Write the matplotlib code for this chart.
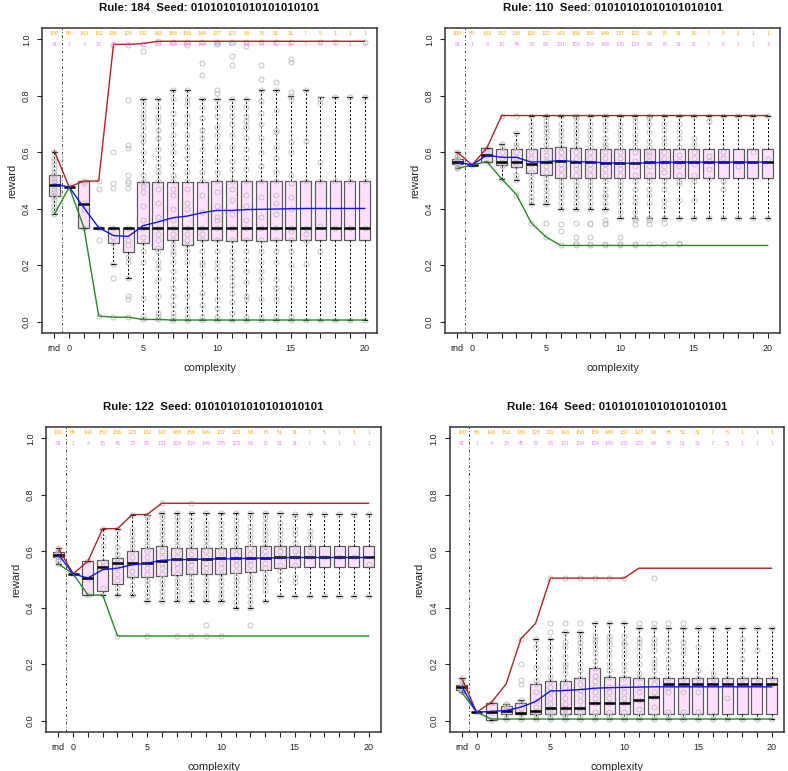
import matplotlib
matplotlib.use("Agg")
import matplotlib.pyplot as plt
import numpy as np

plt.rcParams['font.family'] = ['Liberation Sans', 'DejaVu Sans']

# ---------------- data ----------------
positions = [-1] + list(range(21))
tick_text = {-1: 'rnd', 0: '0', 5: '5', 10: '10', 15: '15', 20: '20'}
seed = "01010101010101010101"
count_top = [100, 65, 143, 152, 136, 128, 132, 143, 168, 159, 149, 137, 123, 93, 75, 51, 31, 7, 5, 1, 1, 1]
count_bot = [91, 1, 4, 15, 45, 73, 95, 131, 159, 154, 149, 135, 123, 93, 75, 51, 31, 7, 5, 1, 1, 1]

# Rule 184
r184_q1 = [0.445, 0.477, 0.333, 0.333, 0.280, 0.248, 0.280, 0.256, 0.290, 0.270, 0.289, 0.290, 0.287, 0.289, 0.287, 0.289, 0.290, 0.290, 0.290, 0.290, 0.290, 0.290]
r184_med = [0.484, 0.477, 0.416, 0.333, 0.333, 0.333, 0.333, 0.333, 0.333, 0.333, 0.333, 0.333, 0.333, 0.333, 0.333, 0.333, 0.333, 0.333, 0.333, 0.333, 0.333, 0.333]
r184_q3 = [0.518, 0.477, 0.498, 0.333, 0.333, 0.333, 0.495, 0.496, 0.496, 0.496, 0.496, 0.498, 0.498, 0.498, 0.498, 0.498, 0.498, 0.498, 0.498, 0.498, 0.498, 0.498]
r184_wlo = [0.38, 0.477, 0.333, 0.333, 0.205, 0.155, 0.008, 0.008, 0.006, 0.006, 0.006, 0.006, 0.006, 0.006, 0.006, 0.006, 0.006, 0.006, 0.006, 0.006, 0.006, 0.006]
r184_whi = [0.60, 0.477, 0.498, 0.333, 0.333, 0.333, 0.787, 0.787, 0.82, 0.82, 0.787, 0.787, 0.787, 0.787, 0.82, 0.82, 0.80, 0.82, 0.796, 0.796, 0.796, 0.796]
r184_max = [0.604, 0.477, 0.498, 0.498, 0.982, 0.982, 0.985, 0.993, 0.993, 0.993, 0.993, 0.993, 0.993, 0.993, 0.993, 0.993, 0.993, 0.993, 0.993, 0.993, 0.993, 0.993]
r184_min = [0.38, 0.477, 0.333, 0.020, 0.016, 0.016, 0.008, 0.008, 0.006, 0.006, 0.006, 0.006, 0.006, 0.006, 0.006, 0.006, 0.006, 0.006, 0.006, 0.006, 0.006, 0.006]
r184_mean = [0.487, 0.477, 0.403, 0.333, 0.305, 0.302, 0.340, 0.353, 0.368, 0.374, 0.386, 0.394, 0.394, 0.397, 0.398, 0.399, 0.400, 0.401, 0.401, 0.401, 0.401, 0.401]
r184_pts = [
    [0.38, 0.40, 0.41, 0.43, 0.44, 0.45, 0.46, 0.47, 0.48, 0.49, 0.50, 0.51, 0.52, 0.53, 0.54, 0.56, 0.57, 0.58, 0.60],
    [0.477],
    [0.333, 0.40, 0.42, 0.49, 0.498],
    [0.02, 0.29, 0.333, 0.47, 0.498],
    [0.016, 0.155, 0.205, 0.28, 0.30, 0.333, 0.475, 0.49, 0.60, 0.98],
    [0.016, 0.08, 0.09, 0.155, 0.21, 0.23, 0.27, 0.29, 0.333, 0.475, 0.49, 0.50, 0.52, 0.615, 0.625, 0.785, 0.98],
    [0.008, 0.02, 0.085, 0.21, 0.25, 0.28, 0.30, 0.333, 0.36, 0.41, 0.46, 0.48, 0.49, 0.50, 0.52, 0.57, 0.60, 0.64, 0.66, 0.69, 0.71, 0.73, 0.75, 0.77, 0.787, 0.96, 0.985],
    [0.008, 0.02, 0.03, 0.09, 0.15, 0.19, 0.21, 0.25, 0.26, 0.29, 0.31, 0.333, 0.37, 0.42, 0.47, 0.50, 0.53, 0.55, 0.58, 0.61, 0.65, 0.68, 0.71, 0.73, 0.76, 0.787, 0.993],
    [0.006, 0.015, 0.03, 0.06, 0.09, 0.12, 0.15, 0.18, 0.21, 0.24, 0.25, 0.27, 0.29, 0.31, 0.333, 0.36, 0.40, 0.45, 0.47, 0.50, 0.52, 0.56, 0.60, 0.63, 0.66, 0.70, 0.74, 0.787, 0.82, 0.99],
    [0.006, 0.015, 0.05, 0.09, 0.15, 0.21, 0.25, 0.27, 0.29, 0.31, 0.333, 0.40, 0.42, 0.47, 0.50, 0.53, 0.58, 0.62, 0.66, 0.70, 0.73, 0.77, 0.787, 0.82, 0.98, 0.99],
    [0.006, 0.015, 0.06, 0.10, 0.17, 0.20, 0.21, 0.25, 0.29, 0.31, 0.333, 0.39, 0.45, 0.50, 0.53, 0.57, 0.61, 0.65, 0.68, 0.72, 0.76, 0.787, 0.875, 0.915, 0.99],
    [0.006, 0.015, 0.05, 0.08, 0.15, 0.19, 0.21, 0.25, 0.29, 0.333, 0.36, 0.37, 0.41, 0.46, 0.50, 0.53, 0.57, 0.62, 0.66, 0.69, 0.73, 0.76, 0.787, 0.81, 0.82, 0.985, 0.99],
    [0.006, 0.03, 0.07, 0.10, 0.13, 0.16, 0.19, 0.22, 0.25, 0.29, 0.333, 0.38, 0.43, 0.47, 0.50, 0.54, 0.57, 0.62, 0.66, 0.70, 0.73, 0.76, 0.787, 0.91, 0.94, 0.99],
    [0.006, 0.015, 0.08, 0.09, 0.14, 0.18, 0.22, 0.25, 0.29, 0.333, 0.36, 0.41, 0.45, 0.50, 0.54, 0.58, 0.61, 0.65, 0.69, 0.71, 0.73, 0.76, 0.787, 0.975, 0.99],
    [0.006, 0.015, 0.08, 0.15, 0.18, 0.21, 0.25, 0.29, 0.333, 0.37, 0.44, 0.50, 0.55, 0.60, 0.65, 0.70, 0.74, 0.78, 0.82, 0.86, 0.91, 0.99],
    [0.006, 0.02, 0.08, 0.12, 0.15, 0.21, 0.25, 0.29, 0.333, 0.38, 0.42, 0.45, 0.50, 0.53, 0.58, 0.62, 0.67, 0.68, 0.75, 0.82, 0.85, 0.99],
    [0.006, 0.015, 0.12, 0.20, 0.25, 0.29, 0.32, 0.333, 0.40, 0.44, 0.49, 0.52, 0.60, 0.635, 0.79, 0.80, 0.815, 0.92, 0.93, 0.99],
    [0.006, 0.205, 0.285, 0.31, 0.333, 0.50, 0.64, 0.82],
    [0.006, 0.25, 0.34, 0.50, 0.565, 0.775, 0.79, 0.99],
    [0.006, 0.333, 0.50, 0.796, 0.99],
    [0.006, 0.333, 0.50, 0.796],
    [0.006, 0.333, 0.50, 0.796, 0.99],
]

# Rule 110
r110_q1 = [0.557, 0.555, 0.567, 0.555, 0.549, 0.528, 0.520, 0.510, 0.510, 0.510, 0.508, 0.510, 0.510, 0.510, 0.510, 0.510, 0.510, 0.510, 0.510, 0.510, 0.510, 0.510]
r110_med = [0.565, 0.555, 0.590, 0.567, 0.567, 0.557, 0.567, 0.570, 0.567, 0.565, 0.563, 0.562, 0.562, 0.565, 0.565, 0.565, 0.565, 0.565, 0.565, 0.565, 0.565, 0.567]
r110_q3 = [0.575, 0.555, 0.616, 0.613, 0.613, 0.610, 0.616, 0.619, 0.616, 0.610, 0.610, 0.610, 0.610, 0.610, 0.610, 0.610, 0.610, 0.610, 0.610, 0.610, 0.610, 0.610]
r110_wlo = [0.543, 0.555, 0.567, 0.505, 0.503, 0.417, 0.417, 0.40, 0.40, 0.40, 0.40, 0.367, 0.367, 0.367, 0.367, 0.367, 0.367, 0.367, 0.367, 0.367, 0.367, 0.367]
r110_whi = [0.60, 0.555, 0.616, 0.63, 0.668, 0.73, 0.73, 0.73, 0.73, 0.73, 0.73, 0.73, 0.73, 0.73, 0.73, 0.73, 0.73, 0.73, 0.73, 0.73, 0.73, 0.73]
r110_max = [0.60, 0.555, 0.616, 0.73, 0.73, 0.73, 0.73, 0.73, 0.73, 0.73, 0.73, 0.73, 0.73, 0.73, 0.73, 0.73, 0.73, 0.73, 0.73, 0.73, 0.73, 0.73]
r110_min = [0.543, 0.555, 0.567, 0.505, 0.45, 0.35, 0.30, 0.27, 0.27, 0.27, 0.27, 0.27, 0.27, 0.27, 0.27, 0.27, 0.27, 0.27, 0.27, 0.27, 0.27, 0.27]
r110_mean = [0.565, 0.555, 0.590, 0.582, 0.582, 0.565, 0.567, 0.570, 0.567, 0.565, 0.563, 0.561, 0.561, 0.563, 0.564, 0.565, 0.565, 0.565, 0.565, 0.565, 0.565, 0.565]
r110_pts = [
    [0.543, 0.548, 0.553, 0.558, 0.562, 0.566, 0.57, 0.575, 0.58, 0.585, 0.60],
    [0.555],
    [0.567, 0.59, 0.60, 0.616],
    [0.505, 0.55, 0.555, 0.567, 0.58, 0.60, 0.62, 0.63, 0.73],
    [0.45, 0.503, 0.52, 0.55, 0.567, 0.58, 0.60, 0.62, 0.63, 0.668, 0.73],
    [0.35, 0.417, 0.43, 0.44, 0.46, 0.48, 0.50, 0.52, 0.53, 0.56, 0.58, 0.60, 0.62, 0.64, 0.66, 0.68, 0.70, 0.73],
    [0.30, 0.35, 0.417, 0.43, 0.45, 0.47, 0.49, 0.51, 0.53, 0.55, 0.57, 0.59, 0.61, 0.63, 0.65, 0.67, 0.69, 0.70, 0.71, 0.73],
    [0.27, 0.32, 0.345, 0.40, 0.42, 0.44, 0.46, 0.48, 0.50, 0.52, 0.54, 0.56, 0.58, 0.60, 0.62, 0.64, 0.66, 0.68, 0.70, 0.73],
    [0.27, 0.28, 0.30, 0.35, 0.40, 0.42, 0.44, 0.46, 0.48, 0.50, 0.52, 0.54, 0.56, 0.58, 0.60, 0.62, 0.64, 0.66, 0.68, 0.70, 0.72, 0.73],
    [0.27, 0.275, 0.30, 0.345, 0.35, 0.40, 0.42, 0.44, 0.46, 0.48, 0.50, 0.52, 0.54, 0.56, 0.58, 0.60, 0.62, 0.64, 0.66, 0.68, 0.70, 0.73],
    [0.27, 0.275, 0.345, 0.35, 0.36, 0.40, 0.42, 0.44, 0.45, 0.47, 0.50, 0.52, 0.54, 0.56, 0.58, 0.60, 0.62, 0.63, 0.65, 0.68, 0.70, 0.73],
    [0.27, 0.275, 0.30, 0.367, 0.39, 0.42, 0.44, 0.46, 0.48, 0.50, 0.52, 0.54, 0.56, 0.58, 0.60, 0.62, 0.64, 0.66, 0.68, 0.70, 0.73],
    [0.27, 0.275, 0.345, 0.36, 0.367, 0.39, 0.42, 0.44, 0.47, 0.50, 0.52, 0.55, 0.57, 0.60, 0.62, 0.64, 0.66, 0.69, 0.71, 0.73],
    [0.275, 0.345, 0.36, 0.367, 0.42, 0.45, 0.47, 0.50, 0.52, 0.55, 0.57, 0.59, 0.60, 0.62, 0.64, 0.67, 0.70, 0.72, 0.73],
    [0.275, 0.35, 0.367, 0.41, 0.43, 0.47, 0.50, 0.53, 0.55, 0.58, 0.60, 0.63, 0.65, 0.68, 0.70, 0.73],
    [0.275, 0.28, 0.367, 0.43, 0.49, 0.50, 0.52, 0.55, 0.57, 0.59, 0.62, 0.65, 0.67, 0.70, 0.73],
    [0.367, 0.43, 0.50, 0.52, 0.56, 0.58, 0.60, 0.63, 0.65, 0.73],
    [0.367, 0.505, 0.54, 0.57, 0.585, 0.71, 0.73],
    [0.367, 0.47, 0.50, 0.58, 0.60, 0.73],
    [0.367, 0.55, 0.73],
    [0.367, 0.60, 0.73],
    [0.367, 0.575, 0.73],
]

# Rule 122
r122_q1 = [0.578, 0.520, 0.445, 0.460, 0.485, 0.510, 0.508, 0.514, 0.515, 0.518, 0.520, 0.520, 0.524, 0.528, 0.533, 0.540, 0.543, 0.545, 0.545, 0.545, 0.545, 0.545]
r122_med = [0.587, 0.520, 0.506, 0.545, 0.560, 0.560, 0.560, 0.565, 0.572, 0.572, 0.572, 0.575, 0.575, 0.575, 0.577, 0.580, 0.580, 0.580, 0.580, 0.580, 0.580, 0.580]
r122_q3 = [0.596, 0.520, 0.565, 0.570, 0.575, 0.600, 0.613, 0.618, 0.613, 0.613, 0.613, 0.613, 0.613, 0.617, 0.617, 0.620, 0.620, 0.620, 0.620, 0.620, 0.620, 0.620]
r122_wlo = [0.555, 0.520, 0.445, 0.445, 0.445, 0.445, 0.423, 0.423, 0.423, 0.423, 0.423, 0.423, 0.40, 0.40, 0.423, 0.44, 0.44, 0.44, 0.44, 0.44, 0.44, 0.44]
r122_whi = [0.61, 0.520, 0.565, 0.68, 0.68, 0.73, 0.73, 0.735, 0.735, 0.735, 0.735, 0.735, 0.735, 0.735, 0.735, 0.735, 0.732, 0.732, 0.732, 0.732, 0.732, 0.732]
r122_max = [0.61, 0.52, 0.565, 0.68, 0.68, 0.73, 0.73, 0.77, 0.77, 0.77, 0.77, 0.77, 0.77, 0.77, 0.77, 0.77, 0.77, 0.77, 0.77, 0.77, 0.77, 0.77]
r122_min = [0.555, 0.52, 0.445, 0.445, 0.30, 0.30, 0.30, 0.30, 0.30, 0.30, 0.30, 0.30, 0.30, 0.30, 0.30, 0.30, 0.30, 0.30, 0.30, 0.30, 0.30, 0.30]
r122_mean = [0.588, 0.520, 0.505, 0.535, 0.540, 0.552, 0.558, 0.568, 0.570, 0.571, 0.572, 0.573, 0.574, 0.575, 0.576, 0.577, 0.578, 0.578, 0.578, 0.578, 0.578, 0.578]
r122_pts = [
    [0.555, 0.565, 0.57, 0.578, 0.583, 0.587, 0.59, 0.596, 0.60, 0.61],
    [0.52],
    [0.445, 0.505, 0.565],
    [0.445, 0.47, 0.545, 0.565, 0.62, 0.65, 0.68],
    [0.30, 0.445, 0.47, 0.50, 0.52, 0.54, 0.56, 0.575, 0.59, 0.615, 0.65, 0.68],
    [0.445, 0.45, 0.48, 0.51, 0.53, 0.56, 0.58, 0.60, 0.62, 0.64, 0.66, 0.68, 0.73],
    [0.30, 0.423, 0.44, 0.46, 0.48, 0.50, 0.52, 0.54, 0.56, 0.58, 0.60, 0.62, 0.64, 0.66, 0.68, 0.70, 0.72, 0.73],
    [0.423, 0.44, 0.46, 0.48, 0.50, 0.52, 0.54, 0.56, 0.58, 0.60, 0.62, 0.64, 0.66, 0.68, 0.70, 0.72, 0.735, 0.77],
    [0.30, 0.423, 0.44, 0.46, 0.48, 0.50, 0.52, 0.54, 0.56, 0.58, 0.60, 0.62, 0.64, 0.66, 0.68, 0.70, 0.72, 0.735],
    [0.30, 0.423, 0.45, 0.47, 0.49, 0.51, 0.53, 0.55, 0.57, 0.59, 0.61, 0.63, 0.65, 0.67, 0.69, 0.71, 0.735, 0.77],
    [0.30, 0.34, 0.423, 0.44, 0.46, 0.48, 0.50, 0.52, 0.54, 0.56, 0.58, 0.60, 0.62, 0.64, 0.66, 0.68, 0.70, 0.735],
    [0.30, 0.423, 0.44, 0.46, 0.48, 0.50, 0.52, 0.54, 0.56, 0.58, 0.60, 0.62, 0.64, 0.66, 0.68, 0.70, 0.735],
    [0.40, 0.42, 0.45, 0.47, 0.49, 0.51, 0.53, 0.55, 0.57, 0.59, 0.61, 0.63, 0.65, 0.67, 0.69, 0.71, 0.735],
    [0.34, 0.40, 0.42, 0.44, 0.47, 0.49, 0.51, 0.53, 0.55, 0.57, 0.59, 0.61, 0.63, 0.65, 0.67, 0.69, 0.72, 0.735],
    [0.423, 0.46, 0.48, 0.50, 0.52, 0.54, 0.56, 0.58, 0.60, 0.62, 0.64, 0.66, 0.68, 0.70, 0.72, 0.735],
    [0.44, 0.50, 0.53, 0.55, 0.58, 0.60, 0.62, 0.64, 0.66, 0.68, 0.70, 0.735],
    [0.44, 0.49, 0.51, 0.55, 0.58, 0.60, 0.63, 0.66, 0.68, 0.72, 0.732],
    [0.44, 0.58, 0.60, 0.62, 0.65, 0.67, 0.732],
    [0.44, 0.58, 0.732],
    [0.44, 0.58, 0.732],
    [0.44, 0.58, 0.732],
    [0.44, 0.555, 0.732],
]

# Rule 164
r164_q1 = [0.110, 0.030, 0.004, 0.022, 0.022, 0.022, 0.022, 0.022, 0.022, 0.022, 0.022, 0.022, 0.022, 0.022, 0.022, 0.022, 0.022, 0.022, 0.022, 0.022, 0.022, 0.022]
r164_med = [0.120, 0.030, 0.030, 0.033, 0.027, 0.035, 0.046, 0.046, 0.046, 0.062, 0.062, 0.062, 0.074, 0.084, 0.130, 0.130, 0.130, 0.130, 0.130, 0.130, 0.130, 0.130]
r164_q3 = [0.127, 0.030, 0.062, 0.053, 0.062, 0.130, 0.139, 0.142, 0.150, 0.187, 0.154, 0.154, 0.150, 0.150, 0.150, 0.150, 0.150, 0.150, 0.150, 0.150, 0.150, 0.150]
r164_wlo = [0.10, 0.030, 0.004, 0.006, 0.006, 0.006, 0.006, 0.006, 0.006, 0.006, 0.006, 0.006, 0.006, 0.006, 0.006, 0.006, 0.006, 0.006, 0.006, 0.006, 0.006, 0.006]
r164_whi = [0.15, 0.030, 0.062, 0.060, 0.075, 0.288, 0.288, 0.315, 0.315, 0.345, 0.345, 0.345, 0.328, 0.328, 0.328, 0.328, 0.328, 0.328, 0.328, 0.328, 0.328, 0.328]
r164_max = [0.15, 0.03, 0.065, 0.13, 0.29, 0.345, 0.505, 0.505, 0.505, 0.505, 0.505, 0.505, 0.54, 0.54, 0.54, 0.54, 0.54, 0.54, 0.54, 0.54, 0.54, 0.54]
r164_min = [0.10, 0.03, 0.006, 0.006, 0.006, 0.006, 0.006, 0.006, 0.006, 0.006, 0.006, 0.006, 0.006, 0.006, 0.006, 0.006, 0.006, 0.006, 0.006, 0.006, 0.006, 0.006]
r164_mean = [0.12, 0.03, 0.033, 0.036, 0.048, 0.068, 0.105, 0.107, 0.110, 0.115, 0.117, 0.118, 0.119, 0.120, 0.120, 0.120, 0.120, 0.120, 0.120, 0.120, 0.120, 0.120]
r164_pts = [
    [0.10, 0.105, 0.11, 0.115, 0.12, 0.125, 0.13, 0.14, 0.15],
    [0.03],
    [0.004, 0.03, 0.062],
    [0.006, 0.022, 0.033, 0.045, 0.053, 0.06],
    [0.006, 0.022, 0.027, 0.045, 0.062, 0.075, 0.13, 0.145, 0.20, 0.29],
    [0.006, 0.015, 0.022, 0.035, 0.05, 0.07, 0.10, 0.13, 0.145, 0.19, 0.26, 0.288],
    [0.006, 0.015, 0.025, 0.035, 0.046, 0.06, 0.08, 0.10, 0.12, 0.139, 0.16, 0.19, 0.22, 0.26, 0.288, 0.315, 0.345, 0.505],
    [0.006, 0.015, 0.025, 0.04, 0.046, 0.06, 0.08, 0.10, 0.12, 0.142, 0.17, 0.19, 0.20, 0.23, 0.26, 0.28, 0.315, 0.345, 0.505],
    [0.006, 0.015, 0.03, 0.046, 0.07, 0.09, 0.11, 0.13, 0.15, 0.18, 0.20, 0.24, 0.26, 0.28, 0.30, 0.315, 0.345, 0.505],
    [0.006, 0.015, 0.03, 0.062, 0.08, 0.10, 0.12, 0.14, 0.16, 0.187, 0.21, 0.24, 0.26, 0.28, 0.29, 0.30, 0.345, 0.505],
    [0.006, 0.015, 0.03, 0.062, 0.08, 0.10, 0.12, 0.154, 0.18, 0.20, 0.23, 0.25, 0.27, 0.29, 0.30, 0.345, 0.505],
    [0.006, 0.015, 0.03, 0.062, 0.08, 0.10, 0.12, 0.154, 0.18, 0.20, 0.23, 0.25, 0.27, 0.28, 0.30, 0.345, 0.505],
    [0.006, 0.015, 0.04, 0.074, 0.10, 0.12, 0.15, 0.17, 0.20, 0.23, 0.26, 0.28, 0.29, 0.328, 0.345],
    [0.006, 0.015, 0.05, 0.084, 0.10, 0.13, 0.15, 0.18, 0.20, 0.22, 0.25, 0.27, 0.29, 0.328, 0.345, 0.505],
    [0.006, 0.02, 0.03, 0.10, 0.12, 0.13, 0.15, 0.19, 0.22, 0.25, 0.28, 0.328, 0.345],
    [0.006, 0.02, 0.03, 0.10, 0.13, 0.15, 0.2, 0.24, 0.26, 0.28, 0.328, 0.345],
    [0.006, 0.03, 0.10, 0.13, 0.15, 0.18, 0.26, 0.328],
    [0.006, 0.02, 0.13, 0.15, 0.17, 0.328],
    [0.006, 0.08, 0.13, 0.15, 0.328],
    [0.006, 0.13, 0.15, 0.22, 0.25, 0.29, 0.328],
    [0.006, 0.13, 0.15, 0.25, 0.328],
    [0.006, 0.13, 0.15, 0.328],
]

panels = [
    ("184", r184_q1, r184_med, r184_q3, r184_wlo, r184_whi, r184_max, r184_min, r184_mean, r184_pts),
    ("110", r110_q1, r110_med, r110_q3, r110_wlo, r110_whi, r110_max, r110_min, r110_mean, r110_pts),
    ("122", r122_q1, r122_med, r122_q3, r122_wlo, r122_whi, r122_max, r122_min, r122_mean, r122_pts),
    ("164", r164_q1, r164_med, r164_q3, r164_wlo, r164_whi, r164_max, r164_min, r164_mean, r164_pts),
]

# ---------------- layout ----------------
W, H = 788, 771
fig = plt.figure(figsize=(W / 100, H / 100), dpi=100)
# pixel boxes: left, right, top, bottom
boxes_px = [(42, 377, 28, 333), (445, 780, 28, 333), (46, 381, 427, 732), (449.5, 784, 427, 732)]

FILL = '#FFE1FF'
EDGE = '#5A5A5A'
PTC = '#BBBBBB'

for (rule, q1, med, q3, wlo, whi, mx, mn, mean, pts), (l, r, t, b) in zip(panels, boxes_px):
    ax = fig.add_axes([l / W, (H - b) / H, (r - l) / W, (b - t) / H])
    stats = [dict(q1=a, med=m, q3=c, whislo=lo, whishi=hi)
             for a, m, c, lo, hi in zip(q1, med, q3, wlo, whi)]
    ax.bxp(stats, positions=positions, widths=0.75, patch_artist=True,
           showfliers=False, manage_ticks=False, capwidths=0.36,
           boxprops=dict(facecolor=FILL, edgecolor=EDGE, linewidth=0.9),
           whiskerprops=dict(color='black', linestyle=(0, (2.2, 2.0)), linewidth=0.7),
           capprops=dict(color='black', linewidth=0.9),
           medianprops=dict(color='black', linewidth=1.8, zorder=3.2))
    for p, vals in zip(positions, pts):
        ax.plot([p] * len(vals), vals, 'o', ms=3.6, mfc='none', mec=PTC, mew=0.6, zorder=3)
    ax.plot(positions, mx, color='#B22222', lw=1.0, zorder=4)
    ax.plot(positions, mn, color='#228B22', lw=1.0, zorder=4)
    ax.plot(positions, mean, color='#1010FF', lw=1.0, zorder=4.1)
    ax.axvline(-0.5, color='#555555', lw=0.7, linestyle=(0, (3, 2, 1, 2)), zorder=1)

    for p, n1, n2 in zip(positions, count_top, count_bot):
        ax.text(p, 1.021, str(n1), color='#FFA500', fontsize=3.9, ha='center', va='center', zorder=5)
        ax.text(p, 0.980, str(n2), color='#EE82EE', fontsize=3.9, ha='center', va='center', zorder=5)

    ax.set_xlim(-1.84, 20.84)
    ax.set_ylim(-0.04, 1.04)
    ax.set_xticks(positions)
    ax.set_xticklabels([tick_text.get(p, '') for p in positions])
    ax.set_yticks([0.0, 0.2, 0.4, 0.6, 0.8, 1.0])
    ax.set_yticklabels(['0.0', '0.2', '0.4', '0.6', '0.8', '1.0'], rotation=90, va='center')
    ax.tick_params(axis='both', direction='out', length=3.5, width=0.8, labelsize=6.5,
                   color='#222222', labelcolor='#222222')
    ax.tick_params(axis='x', pad=4.5)
    ax.tick_params(axis='y', pad=4.5)
    for s in ax.spines.values():
        s.set_linewidth(1.1)
        s.set_color('#333333')
    ax.text(0.5, -35 / 305, 'complexity', transform=ax.transAxes, ha='center', va='center',
            fontsize=8, color='#222222')
    ax.text(-30 / 335, 0.5, 'reward', transform=ax.transAxes, ha='center', va='center',
            rotation=90, fontsize=8, color='#222222')
    ax.text(0.5, 1 + 20 / 305, f"Rule: {rule}  Seed: {seed}", transform=ax.transAxes,
            ha='center', va='center', fontsize=8.2, fontweight='bold', color='#111111')

fig.savefig('out.png', dpi=100)
